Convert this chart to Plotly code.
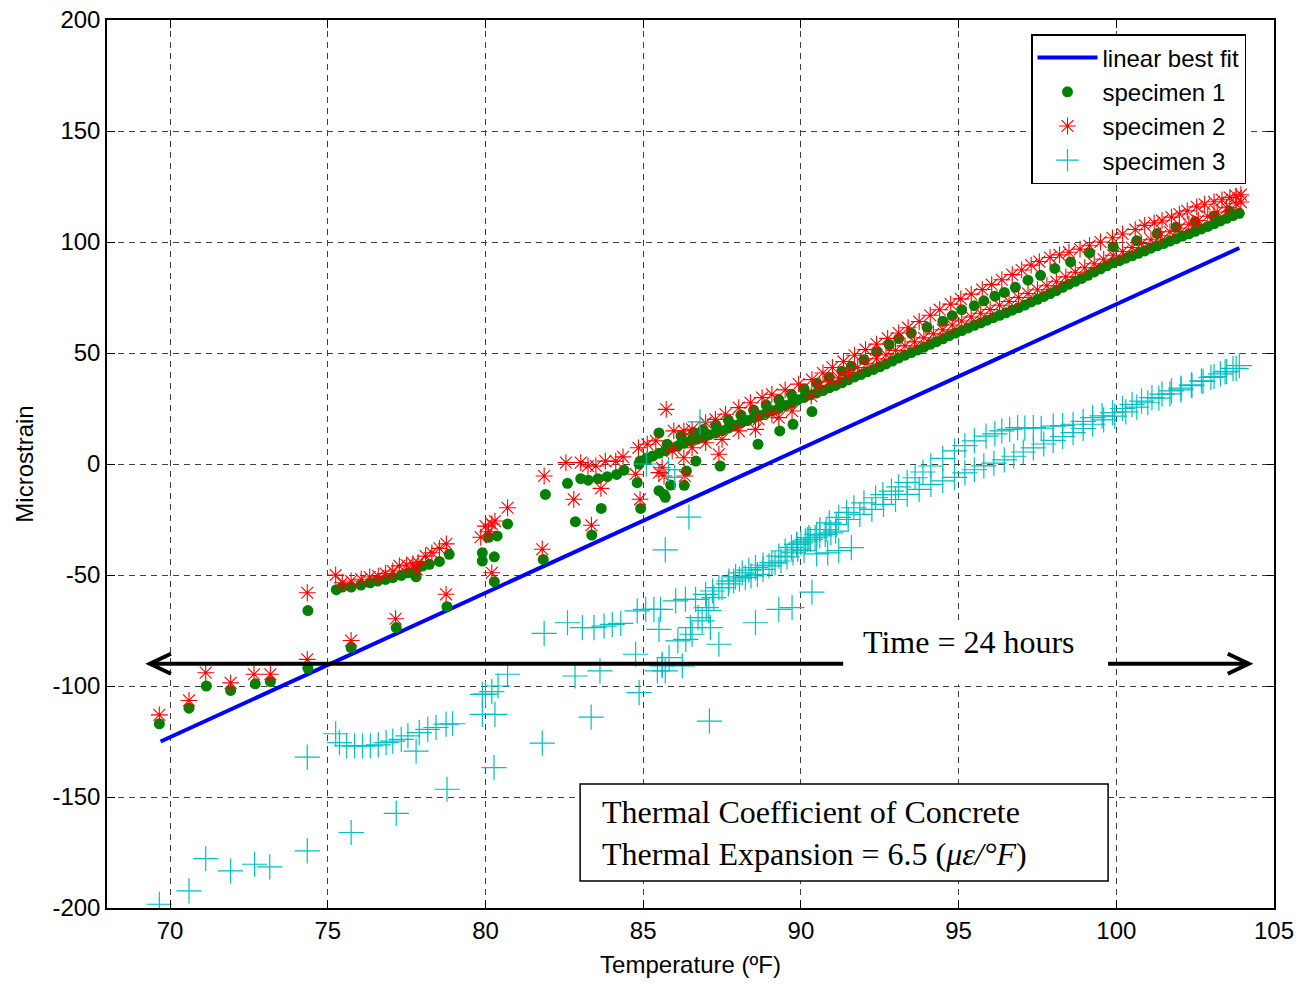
import plotly.graph_objects as go

# ---------------- axes ----------------
x_range = [68, 105]
y_range = [-200, 200]
x_ticks = [70, 75, 80, 85, 90, 95, 100, 105]
y_ticks = [-200, -150, -100, -50, 0, 50, 100, 150, 200]
y_tick_text = ["-200", "-150", "-100", "-50", "0", "50", "100", "150", "200"]

# ---------------- linear best fit ----------------
fit_temp = [69.7, 103.9]
thermal_coef = 6.5          # microstrain per degF
fit_intercept = -578.05

# ---------------- time arrow ----------------
time_span_temp = [69.36, 104.2]
time_level = -90.0

# ---------------- specimen 1 (temperature degF, microstrain) ----------------
s1_scatter = [
    (69.66, -117.0), (70.60, -110.0), (71.15, -100.0), (71.92, -102.0), (72.70, -99.0),
    (73.18, -98.0), (74.37, -92.0), (74.37, -66.0),
    (75.27, -56.6), (75.46, -55.4), (75.74, -55.4), (76.05, -54.5), (76.34, -53.5),
    (76.58, -52.7), (76.83, -52.0), (77.06, -51.2), (77.33, -50.2), (77.54, -49.0),
    (77.80, -47.5), (78.00, -46.0), (78.22, -45.2), (78.54, -43.9), (78.85, -40.7),
    (75.74, -82.7), (77.17, -73.7), (78.78, -64.3), (77.80, -50.8),
    (79.90, -40.0), (79.90, -43.7), (80.10, -33.0), (80.28, -41.8), (80.28, -53.0),
    (80.37, -32.4), (80.70, -27.0),
    (81.83, -43.0), (81.90, -13.7), (82.60, -8.7), (82.85, -26.0), (83.02, -6.6),
    (83.26, -7.3), (83.37, -32.0), (83.57, -6.6), (83.67, -20.0), (83.86, -5.7),
    (84.16, -4.7), (84.39, -2.8), (84.81, -8.4), (84.92, -20.0), (84.87, 0.0),
    (85.13, 2.1), (85.50, 14.0), (85.50, -12.0), (85.66, -13.7), (85.70, -15.0),
    (85.87, -9.5), (85.76, 8.9), (86.30, -9.6), (86.37, -3.2), (86.67, 1.3),
    (86.88, 14.9), (87.44, -0.9), (88.64, 8.9), (89.33, 14.9), (89.75, 17.9), (90.35, 23.6),
]
s1_band_lower = [
    (84.9, 1.3), (85.1, 2.5), (85.3, 3.6), (85.5, 4.8), (85.7, 6.0), (85.9, 7.3),
    (86.1, 8.2), (86.3, 9.4), (86.5, 10.4), (86.7, 11.2), (86.9, 12.1), (87.1, 13.2),
    (87.3, 14.0), (87.5, 15.0), (87.7, 16.2), (87.9, 17.3), (88.1, 18.5), (88.3, 19.6),
    (88.5, 20.8), (88.7, 21.9), (88.9, 23.0), (89.1, 24.0), (89.3, 25.1), (89.5, 26.3),
    (89.7, 27.4), (89.9, 28.9), (90.1, 30.0), (90.3, 31.1), (90.5, 32.0), (90.7, 33.1),
    (90.9, 34.3), (91.1, 35.4), (91.3, 36.6), (91.5, 37.9), (91.7, 39.2), (91.9, 40.3),
    (92.1, 41.5), (92.3, 42.6), (92.5, 43.8), (92.7, 45.1), (92.9, 46.4), (93.1, 47.8),
    (93.3, 49.0), (93.5, 50.2), (93.7, 51.4), (93.9, 52.6), (94.1, 53.9), (94.3, 55.1),
    (94.5, 56.4), (94.7, 57.8), (94.9, 59.0), (95.1, 60.1), (95.3, 61.3), (95.5, 62.5),
    (95.7, 63.6), (95.9, 64.8), (96.1, 65.9), (96.3, 67.0), (96.5, 68.1), (96.7, 69.3),
    (96.9, 70.4), (97.1, 71.6), (97.3, 73.0), (97.5, 74.2), (97.7, 75.5), (97.9, 76.8),
    (98.1, 78.1), (98.3, 79.6), (98.5, 81.0), (98.7, 82.3), (98.9, 83.6), (99.1, 85.0),
    (99.3, 86.5), (99.5, 87.9), (99.7, 89.3), (99.9, 90.6), (100.1, 91.6), (100.3, 92.7),
    (100.5, 93.8), (100.7, 94.9), (100.9, 96.0), (101.1, 97.2), (101.3, 98.3), (101.5, 99.3),
    (101.7, 100.4), (101.9, 101.5), (102.1, 102.7), (102.3, 103.7), (102.5, 104.8),
    (102.7, 105.9), (102.9, 107.0), (103.1, 108.2), (103.3, 109.5), (103.5, 110.7),
    (103.7, 111.9), (103.9, 112.9),
]
s1_band_upper = [
    (86.2, 12.5), (86.6, 14.2), (86.9, 15.5), (87.3, 17.6), (87.7, 19.8), (88.1, 22.0),
    (88.5, 24.3), (88.9, 26.6), (89.3, 29.0), (89.7, 31.4), (90.1, 33.8), (90.5, 36.4),
    (90.9, 39.0), (91.3, 41.8), (91.6, 44.0), (92.0, 47.0), (92.4, 50.6), (92.8, 53.8),
    (93.1, 56.5), (93.5, 58.9), (94.0, 61.6), (94.5, 64.3), (94.8, 66.8), (95.1, 69.5),
    (95.5, 71.3), (95.8, 73.5), (96.15, 75.6), (96.45, 77.3), (96.8, 79.6), (97.2, 82.8),
    (97.6, 85.0), (98.05, 88.1), (98.55, 91.0), (99.15, 95.1), (99.9, 97.9), (100.65, 100.6),
    (101.3, 103.8), (101.9, 106.6), (102.5, 109.2), (103.1, 111.6), (103.6, 113.8),
]

# ---------------- specimen 2 ----------------
s2_scatter = [
    (69.66, -113.0), (70.60, -106.5), (71.13, -94.0), (71.92, -98.6), (72.66, -94.7),
    (73.18, -94.7), (74.35, -88.0), (74.35, -58.0),
    (75.25, -50.0), (75.46, -53.5), (75.74, -52.7), (76.06, -51.9), (76.33, -50.9),
    (76.60, -50.5), (76.83, -49.4), (77.06, -48.2), (77.27, -45.9), (77.50, -45.5),
    (77.70, -44.9), (77.86, -44.4), (78.10, -41.5), (78.30, -40.0), (78.54, -38.0), (78.76, -36.0),
    (75.74, -79.5), (77.15, -69.7), (78.75, -58.7), (77.82, -47.5),
    (79.85, -33.0), (80.00, -28.0), (80.10, -30.5), (80.20, -27.0), (80.30, -25.7),
    (80.20, -49.0), (80.70, -19.7),
    (81.80, -38.4), (81.86, -5.4), (82.55, 0.6), (82.80, -15.9), (83.02, 0.6),
    (83.25, -0.9), (83.36, -27.6), (83.50, -0.9), (83.66, -11.0), (83.80, 1.3),
    (84.13, 1.3), (84.36, 3.2), (84.76, -4.6), (84.90, -15.9),
    (85.50, -3.9), (85.60, -1.7), (85.66, -5.4), (85.73, 24.6), (86.29, 2.8),
    (86.32, -5.4), (87.40, 4.4), (88.56, 15.6), (89.30, 20.9), (89.72, 23.9),
    (85.92, 5.9), (86.55, 7.3), (86.98, 9.6), (87.50, 11.1), (88.03, 14.9),
    (88.66, 20.1), (89.08, 22.4), (90.33, 30.6),
]
s2_band_upper = [
    (84.85, 7.3), (85.13, 8.9), (85.40, 10.4), (85.97, 14.9), (86.29, 14.9), (86.55, 15.6),
    (86.98, 18.6), (87.29, 20.1), (87.61, 22.4), (88.03, 25.4), (88.40, 27.6), (88.77, 29.9),
    (89.08, 31.4), (89.50, 33.4), (89.93, 36.0), (90.35, 38.0), (90.70, 41.0), (91.00, 43.5),
    (91.35, 46.2), (91.70, 49.0), (92.05, 51.5), (92.40, 54.0), (92.75, 56.6), (93.10, 59.0),
    (93.40, 61.4), (93.75, 64.2), (94.10, 67.0), (94.40, 69.5), (94.75, 72.0), (95.07, 74.4),
    (95.40, 76.5), (95.75, 78.6), (96.05, 80.8), (96.37, 83.0), (96.70, 85.3), (97.00, 87.4),
    (97.30, 89.6), (97.56, 91.2), (97.90, 93.0), (98.20, 94.2), (98.50, 95.4), (98.85, 96.8),
    (99.15, 98.3), (99.50, 100.0), (99.88, 101.9), (100.20, 103.6), (100.60, 105.6),
    (100.90, 107.5), (101.20, 108.6), (101.45, 109.6), (101.75, 111.2), (102.00, 112.6),
    (102.25, 114.0), (102.55, 115.8), (102.80, 117.0), (103.10, 118.1), (103.35, 119.0),
    (103.60, 120.0), (103.80, 120.7), (103.95, 121.3),
]
s2_band_lower = [
    (90.6, 35.5), (90.9, 37.0), (91.2, 38.8), (91.5, 41.2), (91.8, 43.5), (92.1, 45.4),
    (92.4, 47.4), (92.7, 49.2), (93.0, 51.2), (93.3, 53.2), (93.6, 55.0), (93.9, 56.8),
    (94.2, 58.6), (94.5, 60.5), (94.8, 62.6), (95.1, 64.4), (95.4, 66.2), (95.7, 67.9),
    (96.0, 69.6), (96.3, 71.5), (96.6, 73.2), (96.9, 75.0), (97.2, 76.8), (97.5, 78.5),
    (97.8, 80.3), (98.1, 82.1), (98.4, 84.3), (98.7, 86.4), (99.0, 88.4), (99.3, 90.2),
    (99.6, 92.2), (99.9, 94.0), (100.2, 95.7), (100.5, 97.5), (100.8, 99.3), (101.1, 101.0),
    (101.4, 102.8), (101.7, 104.6), (102.0, 106.3), (102.3, 108.0), (102.6, 109.7),
    (102.9, 111.6), (103.2, 113.5), (103.5, 115.4), (103.8, 117.2), (103.95, 118.0),
]

# ---------------- specimen 3 ----------------
s3_scatter = [
    (69.66, -198.3), (70.60, -192.3), (71.13, -177.8), (71.92, -183.3), (72.68, -180.3),
    (73.16, -181.5), (74.35, -174.3), (74.35, -132.0),
    (75.25, -121.5), (75.37, -125.5), (75.60, -127.0), (75.85, -127.0), (76.10, -127.0),
    (76.35, -127.0), (76.60, -126.5), (76.85, -125.5), (77.06, -124.8), (77.33, -124.0),
    (77.54, -122.5), (77.90, -121.0), (78.17, -119.5), (78.43, -118.7), (78.75, -117.2),
    (78.96, -117.0),
    (75.74, -166.0), (77.17, -157.4), (77.80, -129.3), (78.78, -146.5),
    (79.90, -112.8), (79.90, -103.8), (80.00, -103.7), (80.20, -102.5), (80.30, -112.8),
    (80.27, -136.8), (80.40, -100.0), (80.70, -94.7),
    (81.80, -125.7), (81.86, -76.3), (82.60, -71.5), (82.84, -95.5), (83.07, -73.7),
    (83.35, -114.0), (83.44, -73.7), (83.63, -93.2), (83.76, -73.0), (84.02, -72.2),
    (84.29, -71.8), (84.76, -85.7), (84.81, -66.2), (84.87, -103.0),
    (85.08, -65.5), (85.34, -65.5), (85.55, -65.5), (85.50, -74.5), (85.45, -93.2),
    (85.60, -91.0), (85.70, -93.2), (85.82, -87.2), (86.24, -91.0), (86.03, -61.7),
    (86.34, -61.0), (86.66, -61.0), (85.70, -38.7), (86.45, -23.9), (85.10, 0.0),
    (85.80, -2.5), (86.00, -6.0), (86.80, 19.0), (87.10, -115.8),
    (87.13, -73.7), (87.40, -81.2), (88.56, -71.5), (89.30, -65.5), (89.72, -64.7),
    (90.35, -57.7), (90.10, -39.0), (90.50, -40.5), (90.85, -40.0), (91.20, -39.0),
    (91.60, -37.7),
]
s3_rise = [
    (85.60, -90.2), (86.10, -79.7), (86.35, -79.0), (86.50, -73.7), (86.55, -76.7),
    (86.74, -69.2), (86.87, -70.7), (87.00, -64.7), (87.08, -66.0), (87.24, -60.2),
    (87.50, -55.7), (87.70, -54.0), (87.87, -52.7), (88.05, -51.8), (88.24, -51.2),
    (88.42, -50.4), (88.62, -49.7), (88.80, -47.5), (88.99, -45.9), (89.18, -44.6),
    (89.37, -43.7), (89.56, -41.8), (89.75, -40.0), (89.90, -38.4),
    (86.98, -58.7), (87.20, -57.2), (87.40, -55.7), (87.72, -52.7), (87.93, -50.8),
    (88.14, -49.0), (88.35, -47.8), (88.56, -46.7), (88.80, -45.5), (89.08, -44.4),
    (89.30, -41.5), (89.50, -39.2), (89.70, -37.6), (89.87, -36.2), (90.00, -35.5),
    (90.14, -34.7), (90.30, -34.0), (90.45, -33.2), (90.60, -32.4), (90.77, -31.7),
    (90.95, -31.0), (91.10, -30.2),
]
s3_band_upper = [
    (90.25, -33.2), (90.60, -29.5), (90.90, -26.5), (91.20, -24.0), (91.45, -21.8),
    (91.68, -19.7), (92.00, -17.5), (92.37, -15.2), (92.60, -13.8), (92.87, -12.2),
    (93.10, -10.3), (93.37, -8.3), (93.62, -6.2), (93.87, -3.6), (94.12, -0.9),
    (94.50, 2.5), (94.87, 5.9), (95.20, 8.3), (95.50, 10.4), (95.87, 12.6), (96.15, 13.6),
    (96.37, 14.9), (96.62, 15.6), (96.87, 16.4), (97.10, 16.2), (97.37, 16.4), (97.62, 16.1),
    (98.00, 17.1), (98.30, 17.3), (98.63, 17.9), (98.95, 19.2), (99.25, 20.9), (99.55, 21.7),
    (99.88, 23.1), (100.20, 25.0), (100.50, 26.9), (100.80, 28.3), (101.13, 29.9),
    (101.45, 31.5), (101.75, 32.9), (102.05, 34.2), (102.38, 35.6), (102.70, 37.4),
    (103.00, 39.0), (103.30, 40.6), (103.50, 41.7), (103.70, 43.1), (103.90, 44.3),
]
s3_band_lower = [
    (89.87, -36.2), (90.20, -34.0), (90.50, -31.7), (90.80, -29.5), (91.12, -27.2),
    (91.50, -25.0), (91.87, -22.7), (92.25, -20.4), (92.62, -18.2), (93.00, -16.0),
    (93.37, -13.7), (93.75, -11.4), (94.12, -9.2), (94.50, -7.6), (94.87, -6.0),
    (95.20, -4.0), (95.50, -2.6), (95.80, -0.8), (96.12, 0.4), (96.45, 1.9), (96.75, 3.5),
    (97.05, 5.4), (97.37, 7.3), (97.70, 9.0), (98.00, 10.6), (98.30, 12.3), (98.63, 14.1),
    (98.95, 16.0), (99.25, 17.9), (99.60, 19.9), (99.95, 21.6), (100.30, 23.5),
    (100.65, 25.6), (101.00, 27.6), (101.35, 29.7), (101.70, 31.6), (102.05, 33.4),
    (102.40, 35.3), (102.75, 37.2), (103.10, 39.4), (103.45, 41.5), (103.80, 43.0),
]

specimen_1 = s1_scatter + s1_band_lower + s1_band_upper
specimen_2 = s2_scatter + s2_band_upper + s2_band_lower
specimen_3 = s3_scatter + s3_rise + s3_band_upper + s3_band_lower

# ---------------- styling ----------------
PLOT_L, PLOT_R, PLOT_T, PLOT_B = 107, 42, 20, 79
W, H = 1316, 987
SANS = "Liberation Sans, Arial, sans-serif"
SERIF = "Liberation Serif, Times New Roman, serif"

fig = go.Figure()

fig.add_trace(go.Scatter(
    x=fit_temp, y=[thermal_coef * t + fit_intercept for t in fit_temp],
    mode="lines", name="linear best fit",
    line=dict(color="#0000FF", width=4),
))
fig.add_trace(go.Scatter(
    x=[p[0] for p in specimen_1], y=[p[1] for p in specimen_1],
    mode="markers", name="specimen 1",
    marker=dict(symbol="circle", size=11, color="#008000", line=dict(width=0)),
))
fig.add_trace(go.Scatter(
    x=[p[0] for p in specimen_2], y=[p[1] for p in specimen_2],
    mode="markers", name="specimen 2",
    marker=dict(symbol="asterisk-open", size=14, color="#FF0000",
                line=dict(width=1.1, color="#FF0000")),
))
fig.add_trace(go.Scatter(
    x=[p[0] for p in specimen_3], y=[p[1] for p in specimen_3],
    mode="markers", name="specimen 3",
    marker=dict(symbol="cross-thin-open", size=18, color="#00BFBF",
                line=dict(width=1.2, color="#00BFBF")),
))

# pixel-to-data helpers for decorations
plot_w = W - PLOT_L - PLOT_R
plot_h = H - PLOT_T - PLOT_B
dx_px = (x_range[1] - x_range[0]) / plot_w
dy_px = (y_range[1] - y_range[0]) / plot_h

arm_x = 21 * dx_px
arm_y = 10 * dy_px
t0, t1 = time_span_temp
shapes = [
    dict(type="line", xref="x", yref="y", x0=t0 + 0.05, x1=t1 - 0.05,
         y0=time_level, y1=time_level, line=dict(color="black", width=4), layer="above"),
    dict(type="path", xref="x", yref="y", layer="above",
         path=f"M {t0 + arm_x},{time_level + arm_y} L {t0},{time_level} L {t0 + arm_x},{time_level - arm_y}",
         line=dict(color="black", width=4)),
    dict(type="path", xref="x", yref="y", layer="above",
         path=f"M {t1 - arm_x},{time_level + arm_y} L {t1},{time_level} L {t1 - arm_x},{time_level - arm_y}",
         line=dict(color="black", width=4)),
    # white patch behind the time label
    dict(type="rect", xref="x", yref="y", layer="above",
         x0=91.34, x1=99.74, y0=-99.3, y1=-72.0,
         fillcolor="white", line=dict(width=0)),
    # frame for the thermal-coefficient note
    dict(type="rect", xref="x", yref="y", layer="above",
         x0=83.0, x1=99.74, y0=-187.8, y1=-144.1,
         fillcolor="white", line=dict(color="black", width=1.5)),
]

annotations = [
    dict(x=95.33, y=-80.0, xref="x", yref="y", text="Time = 24 hours",
         showarrow=False, font=dict(family=SERIF, size=32, color="black"),
         xanchor="center", yanchor="middle"),
    dict(x=83.62, y=-166.0, xref="x", yref="y",
         text="Thermal Coefficient of Concrete<br>"
              f"Thermal Expansion = {thermal_coef} (<i>με/°F</i>)",
         showarrow=False, align="left",
         font=dict(family=SERIF, size=32, color="black"),
         xanchor="left", yanchor="middle"),
]

axis_common = dict(
    showline=True, linecolor="black", linewidth=1.5, mirror="ticks",
    ticks="inside", ticklen=8, tickcolor="black", tickwidth=1.2,
    showgrid=True, gridcolor="#404040", gridwidth=1, griddash="6px,5px",
    zeroline=False, automargin=False,
    tickfont=dict(family=SANS, size=24, color="black"),
)

fig.update_layout(
    width=W, height=H,
    margin=dict(l=PLOT_L, r=PLOT_R, t=PLOT_T, b=PLOT_B),
    paper_bgcolor="white", plot_bgcolor="white",
    xaxis=dict(range=x_range, tickvals=x_ticks, **axis_common,
               title=dict(text="Temperature (ºF)", font=dict(family=SANS, size=24, color="black"),
                          standoff=14)),
    yaxis=dict(range=y_range, tickvals=y_ticks, ticktext=y_tick_text, **axis_common,
               title=dict(text="Microstrain", font=dict(family=SANS, size=24, color="black"),
                          standoff=12)),
    legend=dict(
        x=(1031 - PLOT_L) / plot_w, y=1 - (34 - PLOT_T) / plot_h,
        xanchor="left", yanchor="top",
        bgcolor="white", bordercolor="black", borderwidth=1.5,
        font=dict(family=SANS, size=24, color="black"),
        itemwidth=60,
    ),
    shapes=shapes, annotations=annotations, showlegend=True,
)

fig.write_html("out.html")
